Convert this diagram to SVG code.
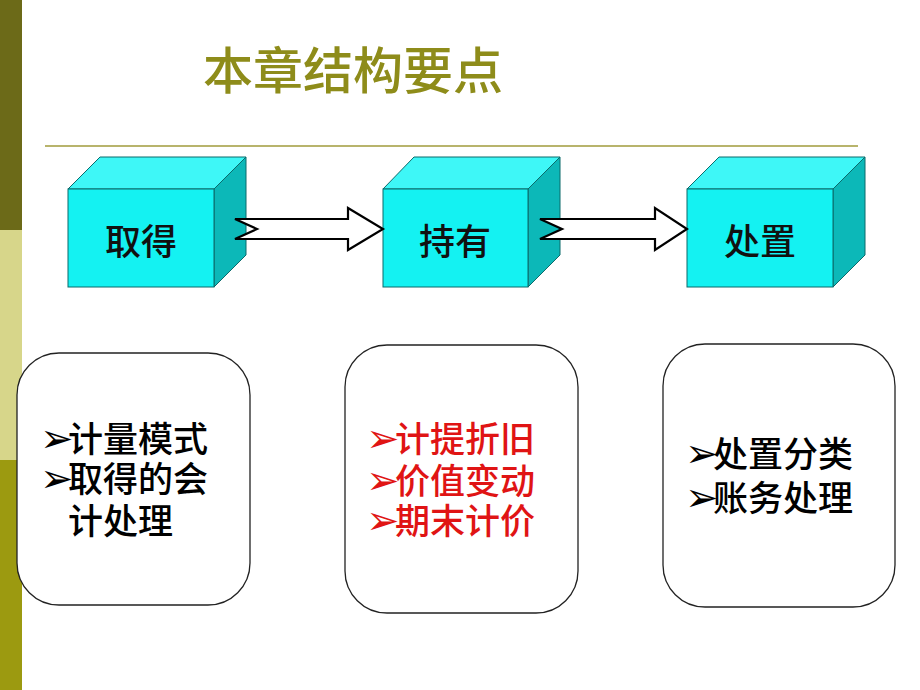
<svg xmlns="http://www.w3.org/2000/svg" width="920" height="690" viewBox="0 0 920 690">
<defs>
<style>
.cjk{font-family:"Noto Sans CJK SC","Liberation Sans",sans-serif;font-weight:500;}
.front{fill:#14f2f2;stroke:#0b6b6b;stroke-width:1;}
.top{fill:#3ef7f7;stroke:#0b6b6b;stroke-width:1;}
.side{fill:#0cb8b8;stroke:#0b6b6b;stroke-width:1;}
.lbl{font-size:36px;fill:#111;text-anchor:middle;}
.box{fill:#fff;stroke:#222;stroke-width:1.3;}
.item{font-size:35px;fill:#000;}
.red{fill:#e01414;}
.b{font-family:"DejaVu Sans",sans-serif;font-size:40px;font-weight:normal;}
.arrow{fill:#fff;stroke:#000;stroke-width:2.2;stroke-linejoin:miter;}
</style>
</defs>
<rect x="0" y="0" width="920" height="690" fill="#fff"/>
<g id="stripe">
<rect x="0" y="0" width="22" height="230" fill="#6c6a18"/>
<rect x="0" y="230" width="22" height="230" fill="#d7d68a"/>
<rect x="0" y="460" width="22" height="230" fill="#9c9a10"/>
</g>
<g id="title">
<text class="cjk" x="203" y="89" font-size="50" fill="#8e8c1a">本章结构要点</text>
<line x1="45" y1="146" x2="858" y2="146" stroke="#b8b46c" stroke-width="2"/>
</g>
<g id="cube-qude">
<polygon class="top" points="68,189 100,157 246,157 214,189"/>
<polygon class="side" points="214,189 246,157 246,255 214,287"/>
<rect class="front" x="68" y="189" width="146" height="98"/>
<text class="cjk lbl" x="141" y="255">取得</text>
</g>
<g id="cube-chiyou">
<polygon class="top" points="383,189 414,157 560,157 528,189"/>
<polygon class="side" points="528,189 560,157 560,255 528,287"/>
<rect class="front" x="383" y="189" width="145" height="98"/>
<text class="cjk lbl" x="455" y="255">持有</text>
</g>
<g id="cube-chuzhi">
<polygon class="top" points="687,189 719,157 865,157 833,189"/>
<polygon class="side" points="833,189 865,157 865,255 833,287"/>
<rect class="front" x="687" y="189" width="146" height="98"/>
<text class="cjk lbl" x="760" y="255">处置</text>
</g>
<g id="connectors">
<polygon class="arrow" points="235,219 348,219 348,208 383,229 348,250 348,239 235,239 257,229"/>
<polygon class="arrow" points="540,219 655,219 655,208 687,229 655,250 655,239 540,239 562,229"/>
</g>
<g id="box-qude">
<rect class="box" x="17" y="353" width="233" height="252" rx="42" ry="42"/>
<text class="cjk item" x="40" y="452"><tspan class="b">➢</tspan><tspan x="68">计量模式</tspan></text>
<text class="cjk item" x="40" y="492"><tspan class="b">➢</tspan><tspan x="68">取得的会</tspan></text>
<text class="cjk item" x="68" y="534">计处理</text>
</g>
<g id="box-chiyou">
<rect class="box" x="345" y="345" width="233" height="268" rx="42" ry="42"/>
<text class="cjk item red" x="366" y="452"><tspan class="b">➢</tspan><tspan x="395">计提折旧</tspan></text>
<text class="cjk item red" x="366" y="494"><tspan class="b">➢</tspan><tspan x="395">价值变动</tspan></text>
<text class="cjk item red" x="366" y="534"><tspan class="b">➢</tspan><tspan x="395">期末计价</tspan></text>
</g>
<g id="box-chuzhi">
<rect class="box" x="663" y="344" width="232" height="263" rx="42" ry="42"/>
<text class="cjk item" x="685" y="467"><tspan class="b">➢</tspan><tspan x="713">处置分类</tspan></text>
<text class="cjk item" x="685" y="511"><tspan class="b">➢</tspan><tspan x="713">账务处理</tspan></text>
</g>
</svg>
